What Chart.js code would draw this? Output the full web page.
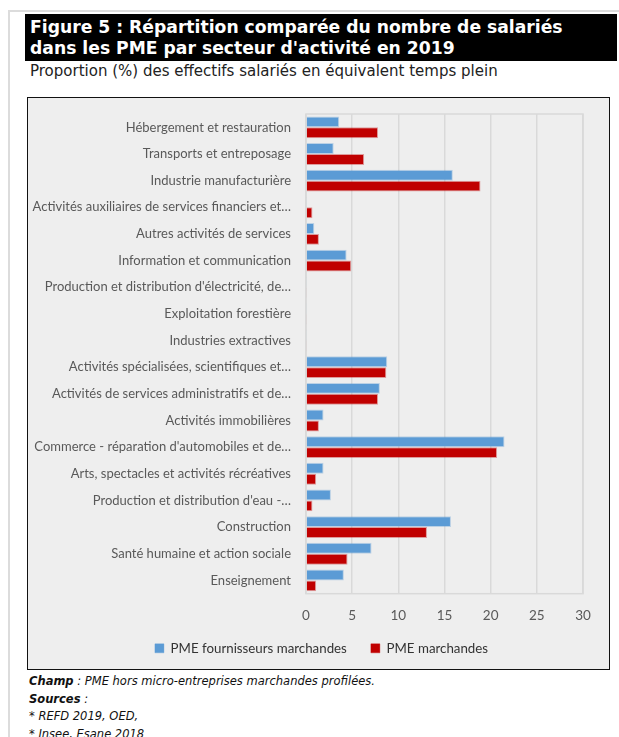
<!DOCTYPE html>
<html lang="fr">
<head>
<meta charset="utf-8">
<script src="https://cdn.jsdelivr.net/npm/chart.js@4.4.1/dist/chart.umd.min.js"></script>
<style>
  html, body { margin: 0; padding: 0; background: #fff; }
  body { width: 619px; height: 737px; position: relative; overflow: hidden; font-family: "DejaVu Sans", Verdana, sans-serif; }
  .frame { position: absolute; left: 8px; top: 10px; width: 700px; height: 800px; border-left: 2px solid #dcdcdc; border-top: 2px solid #dcdcdc; }
  .title { position: absolute; left: 25px; top: 14px; width: 592px; height: 47px; background: #000; color: #fff;
           font-weight: bold; font-size: 17.2px; line-height: 21px; padding: 3px 0 0 5px; box-sizing: border-box; }
  .subtitle { position: absolute; left: 30px; top: 62px; font-size: 15px; color: #222; white-space: nowrap; }
  .box { position: absolute; left: 27px; top: 97px; width: 583px; height: 573px; background: #eeeeee; border: 1.5px solid #111; box-sizing: border-box; }
  .canvas-wrap { position: absolute; left: 28px; top: 98px; width: 581px; height: 571px; }
  .notes { position: absolute; left: 29px; top: 673px; font-size: 11.5px; line-height: 17.7px; font-style: italic; color: #111; white-space: nowrap; }
  .notes b { font-weight: bold; }
</style>
</head>
<body>
<div class="frame"></div>
<div class="title">Figure 5 : Répartition comparée du nombre de salariés<br>dans les PME par secteur d'activité en 2019</div>
<div class="subtitle">Proportion (%) des effectifs salariés en équivalent temps plein</div>
<div class="box"></div>
<div class="canvas-wrap"><canvas id="chart" width="581" height="571"></canvas></div>
<div class="notes">
  <b>Champ</b> : PME hors micro-entreprises marchandes profilées.<br>
  <b>Sources</b> :<br>
  * REFD 2019, OED,<br>
  * Insee, Esane 2018
</div>
<script>
// Secteurs d'activité (libellés tels qu'affichés sur l'axe)
const sectors = [
  "Hébergement et restauration",
  "Transports et entreposage",
  "Industrie manufacturière",
  "Activités auxiliaires de services financiers et…",
  "Autres activités de services",
  "Information et communication",
  "Production et distribution d'électricité, de…",
  "Exploitation forestière",
  "Industries extractives",
  "Activités spécialisées, scientifiques et…",
  "Activités de services administratifs et de…",
  "Activités immobilières",
  "Commerce - réparation d'automobiles et de…",
  "Arts, spectacles et activités récréatives",
  "Production et distribution d'eau -…",
  "Construction",
  "Santé humaine et action sociale",
  "Enseignement"
];

// Part des effectifs salariés (%), PME fournisseurs marchandes
const fournisseurs = [3.6, 3.0, 15.9, 0.1, 0.9, 4.4, 0.1, 0.1, 0.1, 8.8, 8.0, 1.9, 21.5, 1.9, 2.7, 15.7, 7.1, 4.1];
// Part des effectifs salariés (%), ensemble des PME marchandes
const marchandes = [7.8, 6.3, 18.9, 0.7, 1.4, 4.9, 0.1, 0.1, 0.1, 8.7, 7.8, 1.4, 20.7, 1.1, 0.7, 13.1, 4.5, 1.1];

const seriesNames = ["PME fournisseurs marchandes", "PME marchandes"];
const xTicks = [0, 5, 10, 15, 20, 25, 30];

const axisGray = "#595959";
const labelFont = "Lato, Carlito, 'Liberation Sans', sans-serif";

// Cadre gris clair autour de la zone de tracé
const plotBorder = {
  id: "plotBorder",
  beforeDatasetsDraw(chart) {
    const { ctx, chartArea: a } = chart;
    ctx.save();
    ctx.strokeStyle = "#d9d9d9";
    ctx.lineWidth = 1.5;
    ctx.strokeRect(a.left, a.top, a.right - a.left, a.bottom - a.top);
    ctx.restore();
  }
};

// Recentre la légende et laisse de la place aux graduations de l'axe X
const layoutTweaks = {
  id: "layoutTweaks",
  afterLayout(chart) {
    const lg = chart.legend;
    if (lg) { lg.left += 16; lg.right += 16; }
    if (chart.scales.x) { chart.scales.x.bottom += 12; }
  }
};

new Chart(document.getElementById("chart"), {
  type: "bar",
  data: {
    labels: sectors,
    datasets: [
      { label: seriesNames[0], data: fournisseurs, backgroundColor: "#5b9bd5", borderColor: "rgba(91,155,213,0.35)", borderWidth: 1 },
      { label: seriesNames[1], data: marchandes, backgroundColor: "#c00000", borderColor: "rgba(192,0,0,0.35)", borderWidth: 1 }
    ]
  },
  options: {
    indexAxis: "y",
    responsive: false,
    animation: false,
    devicePixelRatio: 1,
    categoryPercentage: 0.82,
    barPercentage: 1.0,
    layout: { padding: { top: 16, right: 26, left: 0, bottom: 4 } },
    scales: {
      x: {
        min: xTicks[0],
        max: xTicks[xTicks.length - 1],
        afterBuildTicks(scale) { scale.ticks = xTicks.map(v => ({ value: v })); },
        afterFit(scale) { scale.height = 24; },
        grid: { color: "#d9d9d9", lineWidth: 1.5, drawTicks: false },
        border: { display: false },
        ticks: { color: axisGray, padding: 14, font: { family: labelFont, size: 13.5 } }
      },
      y: {
        afterFit(scale) { scale.width = 278; scale.paddingTop = 0; scale.paddingBottom = 0; },
        grid: { display: false, drawTicks: false },
        border: { display: false },
        ticks: { color: axisGray, padding: 15, autoSkip: false, font: { family: labelFont, size: 13 } }
      }
    },
    plugins: {
      legend: {
        position: "bottom",
        labels: {
          boxWidth: 9, boxHeight: 9, padding: 24, color: "#333",
          font: { family: labelFont, size: 13.3 }
        }
      },
      tooltip: { enabled: false }
    }
  },
  plugins: [plotBorder, layoutTweaks]
});
</script>
</body>
</html>
